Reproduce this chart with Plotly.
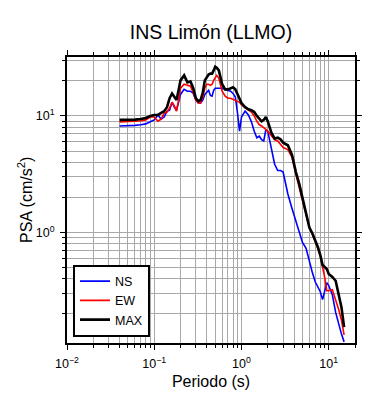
import plotly.graph_objects as go

periods = [0.04, 0.05, 0.06, 0.07, 0.08, 0.09, 0.10, 0.11, 0.12, 0.13, 0.14, 0.15, 0.16, 0.17,
           0.18, 0.19, 0.20, 0.22, 0.24, 0.26, 0.28, 0.30, 0.32, 0.34, 0.36, 0.38, 0.40, 0.42,
           0.44, 0.46, 0.48, 0.50, 0.52, 0.55, 0.60, 0.65, 0.70, 0.75, 0.80, 0.85, 0.90, 0.95,
           1.0, 1.1, 1.2, 1.3, 1.4, 1.5, 1.6, 1.7, 1.8, 1.9, 2.0, 2.2, 2.4, 2.6, 2.8, 3.0, 3.4,
           3.8, 4.2, 4.6, 5.0, 5.5, 6.0, 6.5, 7.0, 7.5, 8.0, 8.5, 9.0, 9.5, 10, 11, 12, 13, 14, 15]

psa_max = [9.25, 9.25, 9.3, 9.4, 9.6, 10.0, 10.2, 10.2, 10.6, 11.0, 11.9, 14.2, 15.6, 14.5,
           13.7, 16.6, 20.2, 22.3, 19.4, 19.8, 17.3, 14.2, 13.4, 13.7, 15.9, 20.2, 21.8, 22.7,
           23.1, 23.1, 24.6, 26.5, 26.0, 24.6, 18.7, 16.9, 16.9, 17.3, 17.6, 16.9, 15.3, 13.9,
           12.9, 11.9, 11.4, 11.2, 10.8, 10.0, 9.4, 9.0, 9.25, 9.8, 9.0, 7.2, 6.4, 6.5, 6.3, 5.9, 5.6,
           4.6, 3.3, 2.6, 1.98, 1.45, 1.10, 0.98, 0.86, 0.75, 0.64, 0.525, 0.505, 0.486, 0.44, 0.415,
           0.385, 0.30, 0.227, 0.154]

psa_ew = [8.9, 8.9, 9.0, 9.1, 9.25, 9.8, 9.8, 9.0, 9.4, 10.6, 10.8, 11.7, 13.1, 12.2,
          11.0, 13.7, 17.3, 18.7, 18.3, 18.0, 15.9, 13.7, 12.9, 12.9, 14.5, 17.3, 18.7, 18.7,
          18.3, 18.7, 20.2, 21.4, 22.3, 21.0, 16.3, 14.8, 14.2, 14.2, 13.9, 13.7, 13.4, 13.1,
          12.4, 11.7, 11.2, 10.8, 10.0, 9.0, 8.4, 8.2, 7.9, 7.6, 7.4, 6.75, 6.25, 6.1, 5.7, 5.35, 5.15,
          4.4, 3.15, 2.4, 1.9, 1.42, 1.10, 0.96, 0.84, 0.73, 0.63, 0.515, 0.41, 0.316, 0.316, 0.322,
          0.266, 0.218, 0.176, 0.132]

psa_ns = [8.2, 8.2, 8.3, 8.4, 8.55, 8.9, 9.25, 10.2, 9.4, 9.8, 11.0, 11.2, 13.1, 11.9,
          11.2, 13.1, 15.3, 16.9, 16.3, 16.3, 15.6, 13.7, 12.9, 12.9, 13.7, 15.3, 15.9, 16.6,
          15.0, 14.8, 16.6, 17.3, 17.3, 17.3, 17.3, 16.9, 16.6, 16.3, 15.6, 14.5, 10.6, 7.4,
          9.8, 11.0, 10.2, 8.9, 7.4, 6.5, 6.7, 6.25, 6.1, 7.6, 7.4, 5.35, 3.85, 3.4, 3.4, 3.3, 2.14,
          1.6, 1.26, 1.04, 0.82, 0.73, 0.56, 0.45, 0.377, 0.335, 0.31, 0.265, 0.31, 0.37, 0.35, 0.292,
          0.206, 0.163, 0.134, 0.115]

x_major = [0.01, 0.1, 1, 10]
x_major_text = ["10<sup>−2</sup>", "10<sup>−1</sup>", "10<sup>0</sup>", "10<sup>1</sup>"]
y_major = [1, 10]
y_major_text = ["10<sup>0</sup>", "10<sup>1</sup>"]

x_minor = [m * d for d in [0.01, 0.1, 1, 10] for m in range(1, 10)]
y_minor = [m * d for d in [0.1, 1, 10] for m in range(1, 10)]

fig = go.Figure()
fig.add_trace(go.Scatter(x=periods, y=psa_ns, mode="lines", name="NS",
                         line=dict(color="#0000ff", width=1.6)))
fig.add_trace(go.Scatter(x=periods, y=psa_ew, mode="lines", name="EW",
                         line=dict(color="#ff0000", width=1.6)))
fig.add_trace(go.Scatter(x=periods, y=psa_max, mode="lines", name="MAX",
                         line=dict(color="#000000", width=2.6)))

font_family = "Liberation Sans, Arial, sans-serif"
grid_col = "#a8a8a8"

fig.update_layout(
    width=390, height=400,
    margin=dict(l=67, r=35, t=57, b=55),
    paper_bgcolor="white", plot_bgcolor="white",
    font=dict(family=font_family, color="black", size=12),
    title=dict(text="INS Limón (LLMO)", x=211 / 390, xanchor="center",
               y=1 - 32 / 400, yanchor="middle",
               font=dict(size=19.5, family=font_family, color="black")),
    showlegend=True,
    legend=dict(x=6 / 288, y=79 / 288, xanchor="left", yanchor="top",
                bgcolor="white", bordercolor="black", borderwidth=2,
                font=dict(size=12.5, family=font_family, color="black"),
                tracegroupgap=0),
    annotations=[dict(text="PSA (cm/s<sup>2</sup>)", textangle=-90,
                      xref="paper", yref="paper", x=(25 - 67) / 288, y=0.5,
                      xanchor="center", yanchor="middle", showarrow=False,
                      font=dict(size=16, family=font_family, color="black"))],
)

fig.update_xaxes(
    type="log", range=[-2, 1.301],
    tickmode="array", tickvals=x_major, ticktext=x_major_text,
    ticks="outside", ticklen=5, tickwidth=1, tickcolor="black",
    showline=True, linewidth=2, linecolor="black", mirror="allticks",
    showgrid=True, gridcolor=grid_col, gridwidth=1,
    minor=dict(tickvals=x_minor, ticks="outside", ticklen=3, tickcolor="black",
               showgrid=True, gridcolor=grid_col, gridwidth=1),
    tickfont=dict(size=12.5, family=font_family, color="black"),
    ticklabelstandoff=3,
    title=dict(text="Periodo (s)", font=dict(size=16, family=font_family, color="black"),
               standoff=6),
    zeroline=False,
)
fig.update_yaxes(
    type="log", range=[-0.949, 1.506],
    tickmode="array", tickvals=y_major, ticktext=y_major_text,
    ticks="outside", ticklen=5, tickwidth=1, tickcolor="black",
    showline=True, linewidth=2, linecolor="black", mirror="allticks",
    showgrid=True, gridcolor=grid_col, gridwidth=1,
    minor=dict(tickvals=y_minor, ticks="outside", ticklen=3, tickcolor="black",
               showgrid=True, gridcolor=grid_col, gridwidth=1),
    tickfont=dict(size=12.5, family=font_family, color="black"),
    ticklabelstandoff=3,
    zeroline=False,
)

fig.write_html("out.html")
